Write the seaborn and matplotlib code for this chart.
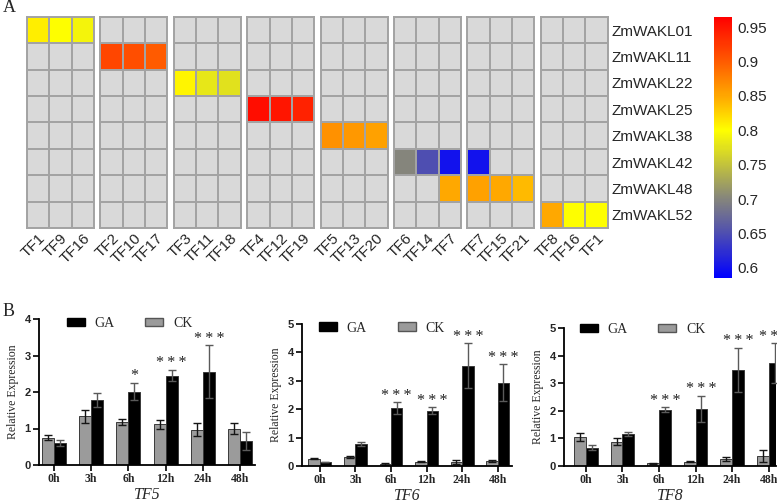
import numpy as np
import pandas as pd
import matplotlib
matplotlib.use("Agg")
import matplotlib.pyplot as plt
import seaborn as sns
from matplotlib.colors import LinearSegmentedColormap
from matplotlib.patches import Patch

# ---- panel A data ----
genes = ["ZmWAKL01", "ZmWAKL11", "ZmWAKL22", "ZmWAKL25",
         "ZmWAKL38", "ZmWAKL42", "ZmWAKL48", "ZmWAKL52"]
block_tfs = [["TF1", "TF9", "TF16"], ["TF2", "TF10", "TF17"], ["TF3", "TF11", "TF18"],
             ["TF4", "TF12", "TF19"], ["TF5", "TF13", "TF20"], ["TF6", "TF14", "TF7"],
             ["TF7", "TF15", "TF21"], ["TF8", "TF16", "TF1"]]
n = np.nan
# rows = genes, 8 blocks of 3 columns
corr = [
    [.81, .80, .79, n, n, n, n, n, n, n, n, n, n, n, n, n, n, n, n, n, n, n, n, n],
    [n, n, n, .915, .91, .90, n, n, n, n, n, n, n, n, n, n, n, n, n, n, n, n, n, n],
    [n, n, n, n, n, n, .805, .78, .775, n, n, n, n, n, n, n, n, n, n, n, n, n, n, n],
    [n, n, n, n, n, n, n, n, n, .955, .95, .94, n, n, n, n, n, n, n, n, n, n, n, n],
    [n, n, n, n, n, n, n, n, n, n, n, n, .865, .86, .855, n, n, n, n, n, n, n, n, n],
    [n, n, n, n, n, n, n, n, n, n, n, n, n, n, n, .70, .65, .60, .60, n, n, n, n, n],
    [n, n, n, n, n, n, n, n, n, n, n, n, n, n, n, n, n, .85, .855, .85, .84, n, n, n],
    [n, n, n, n, n, n, n, n, n, n, n, n, n, n, n, n, n, n, n, n, n, .85, .80, .80],
]
cbar_ticks = [0.6, 0.65, 0.7, 0.75, 0.8, 0.85, 0.9, 0.95]

# ---- panel B data ----
times = ["0h", "3h", "6h", "12h", "24h", "48h"]
panels = ["TF5", "TF6", "TF8"]
ck_mean = {"TF5": [0.75, 1.33, 1.18, 1.11, 0.97, 1.00],
           "TF6": [0.26, 0.31, 0.08, 0.15, 0.15, 0.18],
           "TF8": [1.05, 0.88, 0.10, 0.16, 0.25, 0.37]}
ck_err = {"TF5": [0.07, 0.17, 0.09, 0.13, 0.18, 0.15],
          "TF6": [0.02, 0.03, 0.03, 0.02, 0.07, 0.03],
          "TF8": [0.15, 0.12, 0.02, 0.03, 0.06, 0.22]}
ga_mean = {"TF5": [0.60, 1.78, 2.01, 2.45, 2.56, 0.66],
           "TF6": [0.14, 0.78, 2.03, 1.95, 3.53, 2.93],
           "TF8": [0.67, 1.17, 2.04, 2.07, 3.49, 3.73]}
ga_err = {"TF5": [0.08, 0.20, 0.24, 0.16, 0.72, 0.25],
          "TF6": [0.01, 0.06, 0.21, 0.12, 0.79, 0.65],
          "TF8": [0.10, 0.08, 0.08, 0.47, 0.80, 0.72]}
signif = {"TF5": ["", "", "*", "***", "***", ""],
          "TF6": ["", "", "***", "***", "***", "***"],
          "TF8": ["", "", "***", "***", "***", "***"]}
ymax = {"TF5": 4, "TF6": 5, "TF8": 5}

sns.set_style("white")
plt.rcParams["font.family"] = ["Liberation Sans", "DejaVu Sans"]

W, H = 777, 504
fig = plt.figure(figsize=(W / 100, H / 100), dpi=100)


def box(x0, y0, x1, y1):
    # pixel box (top-left origin) -> figure fraction
    return [x0 / W, 1 - y1 / H, (x1 - x0) / W, (y1 - y0) / H]


cmap = LinearSegmentedColormap.from_list(
    "corr",
    [(0.0, "#0000ff"), ((0.65 - 0.585) / 0.38, "#4f4fb0"), ((0.70 - 0.585) / 0.38, "#85857c"),
     ((0.75 - 0.585) / 0.38, "#c2c23c"), ((0.80 - 0.585) / 0.38, "#ffff00"),
     ((0.85 - 0.585) / 0.38, "#ffa800"), ((0.90 - 0.585) / 0.38, "#ff5c00"), (1.0, "#ff0000")])
cmap.set_bad("#d9d9d9")

heat = pd.DataFrame(corr, index=genes)
cax = fig.add_axes(box(714, 17, 732, 278))
cbar = None
for b, tfs in enumerate(block_tfs):
    x0 = 27 + b * 73.4
    ax = fig.add_axes(box(x0, 17, x0 + 67, 228))
    block = heat.iloc[:, b * 3:b * 3 + 3]
    sns.heatmap(block, ax=ax, cmap=cmap, vmin=0.585, vmax=0.965,
                linewidths=1.4, linecolor="#a3a3a3",
                cbar=(b == 0), cbar_ax=cax if b == 0 else None,
                xticklabels=tfs, yticklabels=genes if b == 7 else False)
    if b == 0:
        cbar = ax.collections[0].colorbar
    for sp in ax.spines.values():
        sp.set_visible(True)
        sp.set_color("#a3a3a3")
        sp.set_linewidth(1.4)
    ax.tick_params(length=0, labelsize=11, pad=2)
    plt.setp(ax.get_xticklabels(), rotation=45, ha="right", rotation_mode="anchor")
    if b == 7:
        ax.yaxis.tick_right()
        plt.setp(ax.get_yticklabels(), rotation=0, ha="left")
        ax.tick_params(axis="y", pad=3)

cbar.set_ticks(cbar_ticks)
cbar.set_ticklabels([f"{t:g}" for t in cbar_ticks])
cbar.outline.set_visible(False)
cax.tick_params(length=0, labelsize=11, pad=4)

fig.text(3 / W, 1 - 8 / H, "A", fontsize=13, family="Liberation Serif", va="center")
fig.text(3 / W, 1 - 311 / H, "B", fontsize=13, family="Liberation Serif", va="center")

# ---- panel B ----
ax_boxes = [(39, 319, 255, 465), (302, 324, 512, 466), (564, 328, 776, 466)]
xlims = [(-0.4, 5.4), (-0.5, 5.4), (-0.6, 5.2)]
leg_pos = [(0.42, 0.97), (0.38, 0.97), (0.37, 0.99)]
colors = {"CK": "#9b9b9b", "GA": "#000000"}
err_colors = {"CK": "#151515", "GA": "#5a5a5a"}

for i, tf in enumerate(panels):
    ax = fig.add_axes(box(*ax_boxes[i]))
    df = pd.DataFrame({
        "time": times * 2,
        "group": ["CK"] * 6 + ["GA"] * 6,
        "value": ck_mean[tf] + ga_mean[tf],
        "err": ck_err[tf] + ga_err[tf],
    })
    sns.barplot(data=df, x="time", y="value", hue="group", order=times,
                hue_order=["CK", "GA"], palette=colors, width=0.64, gap=0,
                edgecolor="#3a3a3a", linewidth=0.7, legend=False, ax=ax)
    for cont, grp in zip(ax.containers, ["CK", "GA"]):
        sub = df[df.group == grp]
        xs = [p.get_x() + p.get_width() / 2 for p in cont.patches]
        ax.errorbar(xs, sub["value"], yerr=sub["err"], fmt="none",
                    ecolor=err_colors[grp], elinewidth=1.0, capsize=3.2, capthick=1.0)
        if grp == "GA":
            for x, v, e, s in zip(xs, sub["value"], sub["err"], signif[tf]):
                if s:
                    ax.annotate("\u2009".join(s), (x, v + e), xytext=(0, -1),
                                textcoords="offset points", ha="center", va="bottom",
                                fontsize=11.5, family="Liberation Serif", color="#222222",
                                annotation_clip=False)
    ax.set_ylim(0, ymax[tf])
    ax.set_xlim(*xlims[i])
    ax.set_yticks(range(ymax[tf] + 1))
    sns.despine(ax=ax)
    for sp in ["left", "bottom"]:
        ax.spines[sp].set_linewidth(1.3)
        ax.spines[sp].set_color("black")
    ax.tick_params(axis="both", direction="out", length=4, width=1.2, color="black",
                   left=True, bottom=True, pad=2)
    ax.tick_params(axis="y", labelsize=8)
    for lab in ax.get_yticklabels():
        lab.set_fontweight("bold")
    for lab in ax.get_xticklabels():
        lab.set_fontweight("bold")
        lab.set_family("Liberation Serif")
        lab.set_fontsize(8.5)
    ax.set_xlabel(tf, fontsize=11.5, style="italic", family="Liberation Serif", labelpad=1)
    ax.set_ylabel("Relative Expression", fontsize=8.5, family="Liberation Serif", labelpad=4)
    handles = [Patch(facecolor="black", edgecolor="black"),
               Patch(facecolor=colors["CK"], edgecolor="#555555")]
    ax.legend(handles, ["GA", "CK"], ncol=2, loc="center", bbox_to_anchor=leg_pos[i],
              frameon=False, prop={"family": "Liberation Serif", "size": 10},
              handlelength=1.3, handleheight=0.6, columnspacing=2.2, handletextpad=0.7)

fig.savefig("out.png", dpi=100)
